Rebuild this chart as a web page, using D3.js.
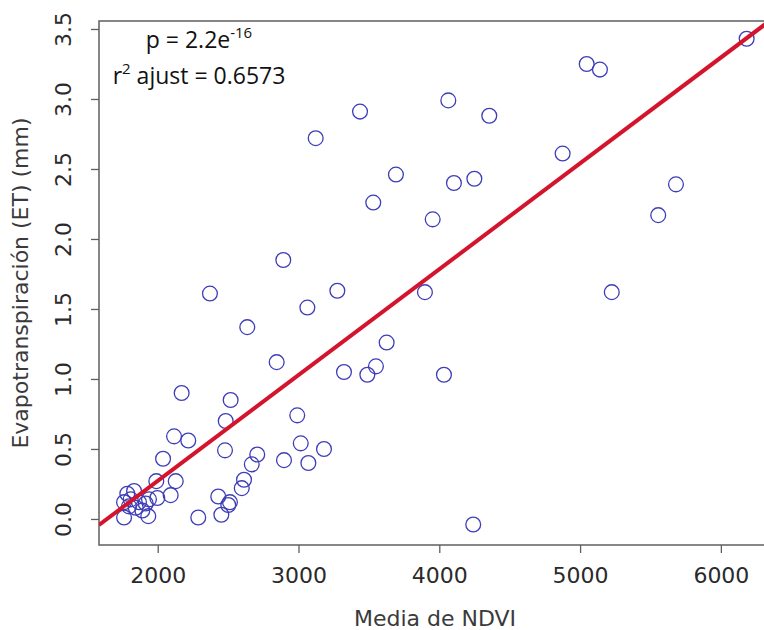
<!DOCTYPE html>
<html>
<head>
<meta charset="utf-8">
<script src="https://cdn.jsdelivr.net/npm/d3@7"></script>
<style>
  body { margin: 0; background: #fff; }
  svg { display: block; }
</style>
</head>
<body>
<svg id="chart" width="764" height="630"></svg>
<script>
'use strict';

// Media de NDVI (x) and ET in mm (y)
const ndvi = [
  6183, 5047, 5141, 4876, 5681, 5555, 5225, 3437, 4064, 4355, 3692,
  4104, 4249, 3531, 3953, 3898, 3122, 2892, 2371, 3276, 3063, 2636,
  2845, 3323, 2170, 2518, 2483, 2991, 2116, 2217, 3016, 3181, 2478,
  2897, 3070, 2707, 2668, 2038, 2128, 2613, 2597, 1990, 2092, 1997,
  2430, 2513, 2501, 2452, 2288, 1933, 1761, 1784, 1832, 1808, 1761,
  1867, 1915, 1844, 1891, 1796, 1938, 3626, 3550, 3489, 4033, 4241
];
const et = [
  3.43, 3.25, 3.21, 2.61, 2.39, 2.17, 1.62, 2.91, 2.99, 2.88, 2.46,
  2.40, 2.43, 2.26, 2.14, 1.62, 2.72, 1.85, 1.61, 1.63, 1.51, 1.37,
  1.12, 1.05, 0.90, 0.85, 0.70, 0.74, 0.59, 0.56, 0.54, 0.50, 0.49,
  0.42, 0.40, 0.46, 0.39, 0.43, 0.27, 0.28, 0.22, 0.27, 0.17, 0.15,
  0.16, 0.12, 0.10, 0.03, 0.01, 0.02, 0.01, 0.18, 0.20, 0.14, 0.12,
  0.12, 0.11, 0.08, 0.06, 0.09, 0.14, 1.26, 1.09, 1.03, 1.03, -0.04
];

const xTicks = [2000, 3000, 4000, 5000, 6000];
const yTicks = [0, 0.5, 1, 1.5, 2, 2.5, 3, 3.5];

// fitted line as drawn (intercept, slope)
const fit = { a: -1.24, b: 0.000756 };

const pLabel = 'p = 2.2e';
const pExp = '-16';
const r2Value = '0.6573';

const points = ndvi.map((v, i) => ({ x: v, y: et[i] }));

const svg = d3.select('#chart');

// plot region (R style box, right edge runs past the picture)
const box = { left: 99, right: 771, top: 21, bottom: 545 };

const x = d3.scaleLinear().domain([1583, 6356]).range([box.left, box.right]);
const y = d3.scaleLinear().domain([-0.186, 3.557]).range([box.bottom, box.top]);

const axisColor = '#5f5f5f';
const font = '"DejaVu Sans", "Liberation Sans", Arial, sans-serif';

svg.append('defs').append('clipPath')
    .attr('id', 'plotClip')
  .append('rect')
    .attr('x', box.left)
    .attr('y', box.top)
    .attr('width', box.right - box.left)
    .attr('height', box.bottom - box.top);

// x axis
const gx = svg.append('g')
    .attr('transform', `translate(0,${box.bottom})`)
    .call(d3.axisBottom(x).tickValues(xTicks).tickSize(8).tickPadding(14).tickFormat(d3.format('d')));

// y axis
const gy = svg.append('g')
    .attr('transform', `translate(${box.left},0)`)
    .call(d3.axisLeft(y).tickValues(yTicks).tickSize(8).tickFormat(d3.format('.1f')));

[gx, gy].forEach(g => {
  g.select('.domain').remove();
  g.selectAll('.tick line').attr('stroke', axisColor).attr('stroke-width', 1.3);
  g.selectAll('.tick text')
    .attr('fill', '#2a2a2a')
    .style('font-family', font)
    .style('font-size', '22px');
});

gy.selectAll('.tick text')
    .attr('x', null)
    .attr('dy', '0.36em')
    .attr('text-anchor', 'middle')
    .attr('transform', 'translate(-36,0) rotate(-90)');

// box
svg.append('rect')
    .attr('x', box.left)
    .attr('y', box.top)
    .attr('width', box.right - box.left)
    .attr('height', box.bottom - box.top)
    .attr('fill', 'none')
    .attr('stroke', axisColor)
    .attr('stroke-width', 1.5);

// axis titles
svg.append('text')
    .attr('x', (box.left + box.right) / 2)
    .attr('y', 626)
    .attr('text-anchor', 'middle')
    .attr('fill', '#3a3a3a')
    .style('font-family', font)
    .style('font-size', '22px')
    .text('Media de NDVI');

svg.append('text')
    .attr('transform', `translate(28,${(box.top + box.bottom) / 2}) rotate(-90)`)
    .attr('text-anchor', 'middle')
    .attr('fill', '#3a3a3a')
    .style('font-family', font)
    .style('font-size', '22px')
    .text('Evapotranspiración (ET) (mm)');

const plotArea = svg.append('g').attr('clip-path', 'url(#plotClip)');

// points
plotArea.selectAll('circle.pt')
  .data(points)
  .enter().append('circle')
    .attr('class', 'pt')
    .attr('cx', d => x(d.x))
    .attr('cy', d => y(d.y))
    .attr('r', 7.4)
    .attr('fill', 'none')
    .attr('stroke', '#3d3db8')
    .attr('stroke-width', 1.3);

// regression line across the whole region
const xd = x.domain();
plotArea.append('line')
    .attr('x1', x(xd[0]))
    .attr('y1', y(fit.a + fit.b * xd[0]))
    .attr('x2', x(xd[1]))
    .attr('y2', y(fit.a + fit.b * xd[1]))
    .attr('stroke', '#d4142c')
    .attr('stroke-width', 4);

// annotation
const note = svg.append('g')
    .attr('fill', '#111')
    .style('font-family', '"Open Sans", "Noto Sans", sans-serif')
    .style('font-size', '23px');

const t1 = note.append('text')
    .attr('x', 199)
    .attr('y', 48)
    .attr('text-anchor', 'middle');
t1.append('tspan').text(pLabel);
t1.append('tspan').attr('dy', -10).style('font-size', '15px').text(pExp);

const t2 = note.append('text')
    .attr('x', 199)
    .attr('y', 84)
    .attr('text-anchor', 'middle');
t2.append('tspan').text('r');
t2.append('tspan').attr('dy', -10).style('font-size', '15px').text('2');
t2.append('tspan').attr('dy', 10).text(' ajust = ' + r2Value);
</script>
</body>
</html>
